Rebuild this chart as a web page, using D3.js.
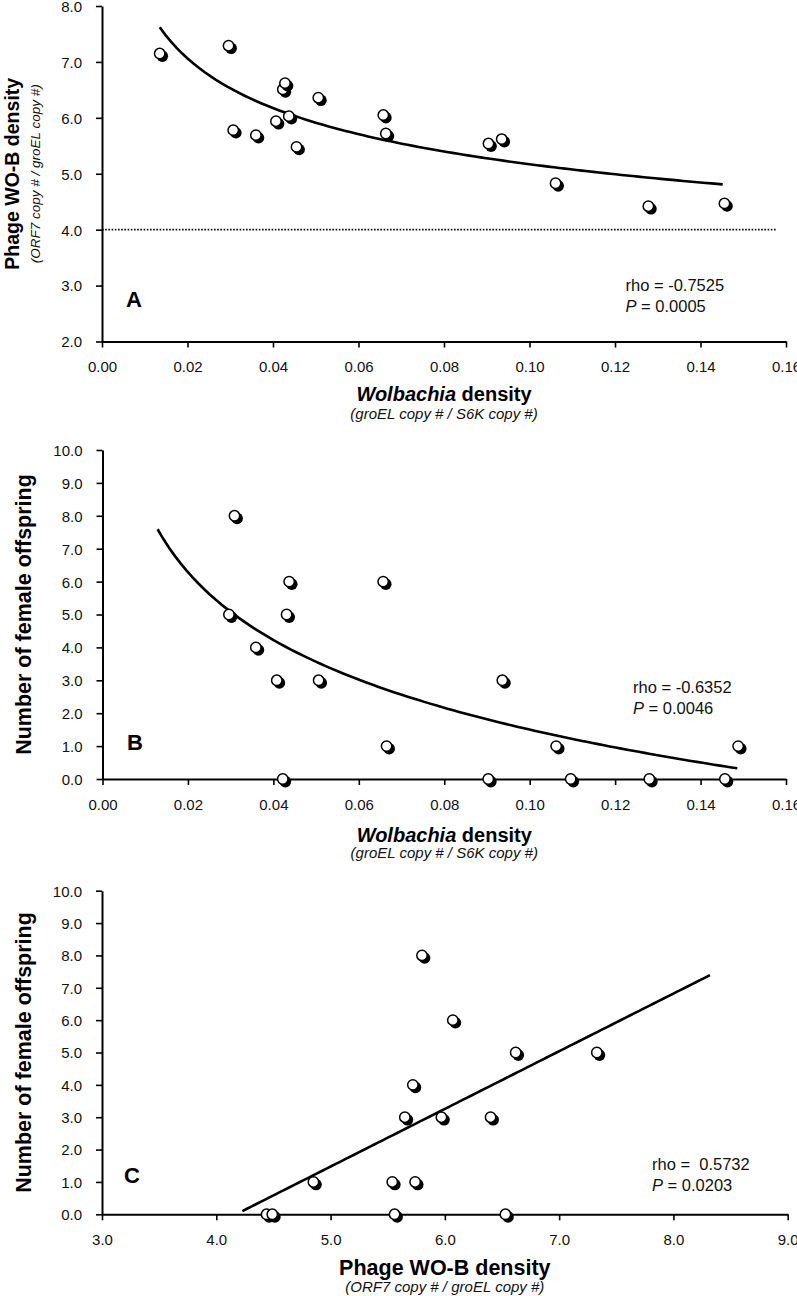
<!DOCTYPE html>
<html>
<head>
<meta charset="utf-8">
<script src="https://cdn.jsdelivr.net/npm/d3@7/dist/d3.min.js"></script>
<style>
html,body{margin:0;padding:0;background:#fff;}
svg{display:block;font-family:"Liberation Sans",Arial,Helvetica,sans-serif;}
</style>
</head>
<body>
<svg id="chart" width="797" height="1296"></svg>
<script>
// ---------- DATA ----------
// Panel A: Wolbachia density vs phage WO-B density
const aWolbachia = [0.0135,0.0296,0.0307,0.0360,0.0407,0.0423,0.0428,0.0437,0.0455,0.0506,0.0658,0.0664,0.0904,0.0935,0.1061,0.1278,0.1456];
const aPhage     = [7.15,7.29,5.78,5.69,5.94,6.51,6.62,6.03,5.48,6.36,6.05,5.72,5.54,5.62,4.83,4.42,4.47];
// Panel B: Wolbachia density vs number of female offspring
const bWolbachia = [0.0309,0.0437,0.0657,0.0296,0.0431,0.0359,0.0408,0.0506,0.0936,0.0665,0.1062,0.1488,0.0422,0.0903,0.1096,0.1280,0.1457];
const bFemales   = [8,6,6,5,5,4,3,3,3,1,1,1,0,0,0,0,0];
// Panel C: phage WO-B density vs number of female offspring
const cPhage     = [4.44,4.49,4.85,5.54,5.56,5.65,5.80,6.07,6.62,7.33,5.72,5.97,6.40,5.74,6.53];
const cFemales   = [0,0,1,1,0,3,8,6,5,5,4,3,3,1,0];

// Tick values
const xTicksWol   = [0,0.02,0.04,0.06,0.08,0.10,0.12,0.14,0.16];
const yTicksA     = [2,3,4,5,6,7,8];
const yTicksFem   = [0,1,2,3,4,5,6,7,8,9,10];
const xTicksPhage = [3,4,5,6,7,8,9];

// Fitted trend lines (coefficients)
const fitA = {type:"power", c:3.310, b:-0.1937, x0:0.0135, x1:0.1452};
const fitB = {type:"log",   a:-5.344, b:-2.973, x0:0.0129, x1:0.1486};
const fitC = {type:"linear",m:1.782, k:-7.435, x0:4.228, x1:8.319};
const thresholdA = {y:4.0, x0:0, x1:0.1576};

// Statistics text
const statsA = ["rho = -0.7525","0.0005"];
const statsB = ["rho = -0.6352","0.0046"];
const statsC = ["rho =  0.5732","0.0203"];

// ---------- DRAWING ----------
const svg = d3.select("#chart");
const FONT = '"Liberation Sans",Arial,Helvetica,sans-serif';

function fitFn(f){
  if(f.type==="power") return x => f.c*Math.pow(x,f.b);
  if(f.type==="log") return x => f.a + f.b*Math.log(x);
  return x => f.m*x + f.k;
}

function panel(o){
  const g = svg.append("g");
  const x = d3.scaleLinear().domain(o.xDomain).range([o.left,o.right]);
  const y = d3.scaleLinear().domain(o.yDomain).range([o.bottom,o.top]);

  // axes
  const xa = d3.axisBottom(x).tickValues(o.xTicks).tickFormat(d3.format(o.xFmt)).tickSize(6).tickSizeOuter(0).tickPadding(14);
  const ya = d3.axisLeft(y).tickValues(o.yTicks).tickFormat(d3.format(".1f")).tickSize(6).tickSizeOuter(0).tickPadding(14);
  const gx = g.append("g").attr("transform",`translate(0,${o.bottom})`).call(xa);
  const gy = g.append("g").attr("transform",`translate(${o.left},0)`).call(ya);
  [gx,gy].forEach(a=>{
    a.select(".domain").attr("stroke","#000").attr("stroke-width",2);
    a.selectAll(".tick line").attr("stroke","#000").attr("stroke-width",1.6);
    a.selectAll(".tick text").attr("fill","#111").style("font-family",FONT).style("font-size","15px");
  });
  gy.selectAll(".tick text").attr("dy","0.36em");

  // threshold dotted line
  if(o.threshold){
    g.append("line")
      .attr("x1",x(o.threshold.x0)).attr("x2",x(o.threshold.x1))
      .attr("y1",y(o.threshold.y)).attr("y2",y(o.threshold.y))
      .attr("stroke","#000").attr("stroke-width",1.6).attr("stroke-dasharray","1.6,1.6");
  }

  // fitted curve
  const f = fitFn(o.fit);
  const xs = d3.range(0,101).map(i => o.fit.x0 + (o.fit.x1-o.fit.x0)*i/100);
  g.append("path")
    .datum(xs)
    .attr("d", d3.line().x(d=>x(d)).y(d=>y(f(d))))
    .attr("fill","none").attr("stroke","#000").attr("stroke-width",2.6);

  // markers
  const pts = o.xs.map((v,i)=>({x:v,y:o.ys[i]}));
  const mk = g.append("g").selectAll("g").data(pts).join("g")
    .attr("transform",d=>`translate(${x(d.x)},${y(d.y)})`);
  mk.append("circle").attr("cx",2.6).attr("cy",2.6).attr("r",5.8).attr("fill","#000");
  mk.append("circle").attr("r",5.2).attr("fill","#fff").attr("stroke","#000").attr("stroke-width",1.5);

  // panel letter
  g.append("text").attr("x",o.letterX).attr("y",o.letterY).text(o.letter)
    .style("font-family",FONT).style("font-size","22px").style("font-weight","bold");

  // stats
  g.append("text").attr("x",o.statX).attr("y",o.statY).text(o.stats[0])
    .style("font-family",FONT).style("font-size","16.5px").style("white-space","pre").attr("fill","#111");
  const t2 = g.append("text").attr("x",o.statX).attr("y",o.statY+21)
    .style("font-family",FONT).style("font-size","16.5px").attr("fill","#111");
  t2.append("tspan").text("P").style("font-style","italic");
  t2.append("tspan").text(" = " + o.stats[1]);

  // x title
  const cx = (o.left+o.right)/2;
  const xt = g.append("text").attr("x",cx).attr("y",o.xTitleY).attr("text-anchor","middle")
    .style("font-family",FONT).style("font-size",o.xTitleSize+"px").style("font-weight","bold");
  o.xTitle.forEach(p=>xt.append("tspan").text(p.t).style("font-style",p.i?"italic":"normal"));
  g.append("text").attr("x",cx).attr("y",o.xSubY).attr("text-anchor","middle").text(o.xSub)
    .style("font-family",FONT).style("font-size","15px").style("font-style","italic").attr("fill","#111");

  // y title
  const cy = (o.top+o.bottom)/2;
  g.append("text").attr("transform",`translate(${o.yTitleX},${cy}) rotate(-90)`).attr("text-anchor","middle")
    .text(o.yTitle).style("font-family",FONT).style("font-size",o.yTitleSize+"px").style("font-weight","bold");
  if(o.ySub){
    g.append("text").attr("transform",`translate(${o.ySubX},${cy}) rotate(-90)`).attr("text-anchor","middle")
      .text(o.ySub).style("font-family",FONT).style("font-size","13.5px").style("font-style","italic").attr("fill","#111");
  }
}

panel({
  xDomain:[0,0.16], yDomain:[2,8], left:102, right:786, top:6, bottom:341.5,
  xTicks:xTicksWol, yTicks:yTicksA, xFmt:".2f",
  xs:aWolbachia, ys:aPhage, fit:fitA, threshold:thresholdA,
  letter:"A", letterX:126, letterY:306.5,
  stats:statsA, statX:625.5, statY:291,
  xTitle:[{t:"Wolbachia",i:true},{t:" density",i:false}], xTitleSize:20, xTitleY:401,
  xSub:"(groEL copy # / S6K copy #)", xSubY:419,
  yTitle:"Phage WO-B density", yTitleSize:19.5, yTitleX:18.5,
  ySub:"(ORF7 copy # / groEL copy #)", ySubX:40
});

panel({
  xDomain:[0,0.16], yDomain:[0,10], left:102.5, right:786, top:450, bottom:779,
  xTicks:xTicksWol, yTicks:yTicksFem, xFmt:".2f",
  xs:bWolbachia, ys:bFemales, fit:fitB,
  letter:"B", letterX:127, letterY:749.5,
  stats:statsB, statX:633, statY:693,
  xTitle:[{t:"Wolbachia",i:true},{t:" density",i:false}], xTitleSize:20, xTitleY:841.5,
  xSub:"(groEL copy # / S6K copy #)", xSubY:858,
  yTitle:"Number of female offspring", yTitleSize:21.5, yTitleX:30.5
});

panel({
  xDomain:[3,9], yDomain:[0,10], left:102, right:787.7, top:890.7, bottom:1214.3,
  xTicks:xTicksPhage, yTicks:yTicksFem, xFmt:".1f",
  xs:cPhage, ys:cFemales, fit:fitC,
  letter:"C", letterX:124, letterY:1183,
  stats:statsC, statX:652, statY:1170,
  xTitle:[{t:"Phage WO-B density",i:false}], xTitleSize:21.5, xTitleY:1274.5,
  xSub:"(ORF7 copy # / groEL copy #)", xSubY:1292,
  yTitle:"Number of female offspring", yTitleSize:21.5, yTitleX:30.5
});
</script>
</body>
</html>
